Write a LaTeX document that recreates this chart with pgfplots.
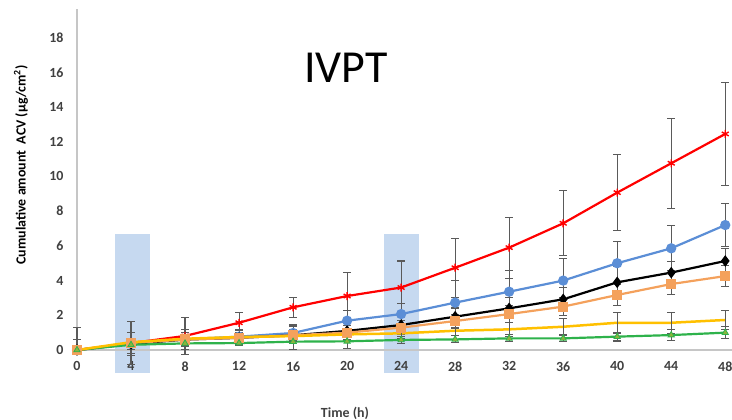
\documentclass[border=0pt]{standalone}
\usepackage{pgfplots}
\pgfplotsset{compat=1.18}
\usepackage{fontspec}
\setmainfont{Carlito}

\definecolor{cred}{HTML}{FF0000}
\definecolor{cblue}{HTML}{5B8ED6}
\definecolor{corange}{HTML}{F4A15C}
\definecolor{cyellow}{HTML}{FFC000}
\definecolor{cgreen}{HTML}{2EB24B}
\definecolor{cgreenfill}{HTML}{8CB43C}
\definecolor{cshade}{HTML}{C6D9F0}
\definecolor{ctick}{HTML}{404040}
\definecolor{cerr}{HTML}{5A5A5A}

\begin{document}
\begin{tikzpicture}
\begin{axis}[
  set layers,
  scale only axis, width=655bp, height=341bp,
  xmin=0, xmax=48.5, ymin=0, ymax=19.65,
  axis lines=left,
  axis line style={draw=gray!45, line width=1.3pt, -},
  xtick={0,4,...,48}, ytick={0,2,...,18},
  major tick length=0pt,
  /pgf/number format/assume math mode=true,
  tick label style={font=\fontsize{14}{16}\selectfont\bfseries, text=ctick},
  yticklabel style={xshift=-10bp},
  xticklabel style={yshift=-8bp},
  clip=false,
  every axis plot/.append style={line width=2.2bp},
  error bars/error bar style={draw=cerr, line width=1.1bp, solid},
  error bars/error mark options={draw=cerr, line width=1.1bp, mark size=3.8bp, rotate=90},
]
% shaded sampling windows
\addplot[on layer=axis background, draw=none, fill=cshade, line width=0pt]
  coordinates {(2.8,-1.33) (5.4,-1.33) (5.4,6.7) (2.8,6.7)} -- cycle;
\addplot[on layer=axis background, draw=none, fill=cshade, line width=0pt]
  coordinates {(22.7,-1.33) (25.3,-1.33) (25.3,6.7) (22.7,6.7)} -- cycle;

% red
\addplot[cred, mark=asterisk, mark size=4bp, mark options={line width=1.4bp},
  error bars/.cd, y dir=both, y explicit] coordinates {
  (0,0) +- (0,0)
  (4,0.40) +- (0,1.25)
  (8,0.81) +- (0,1.05)
  (12,1.57) +- (0,0.58)
  (16,2.46) +- (0,0.58)
  (20,3.11) +- (0,1.35)
  (24,3.60) +- (0,1.53)
  (28,4.74) +- (0,1.70)
  (32,5.90) +- (0,1.76)
  (36,7.30) +- (0,1.88)
  (40,9.07) +- (0,2.19)
  (44,10.76) +- (0,2.60)
  (48,12.45) +- (0,2.98)
};
% blue
\addplot[cblue, mark=*, mark size=4bp, mark options={fill=cblue, draw=cblue},
  error bars/.cd, y dir=both, y explicit] coordinates {
  (0,0) +- (0,0)
  (4,0.35) +- (0,0.30)
  (8,0.62) +- (0,0.57)
  (12,0.77) +- (0,0.40)
  (16,0.98) +- (0,0.46)
  (20,1.69) +- (0,0.60)
  (24,2.07) +- (0,0.60)
  (28,2.73) +- (0,1.30)
  (32,3.36) +- (0,1.24)
  (36,4.00) +- (0,1.28)
  (40,5.00) +- (0,1.25)
  (44,5.86) +- (0,1.30)
  (48,7.20) +- (0,1.25)
};
% black
\addplot[black, mark=diamond*, mark size=4bp, mark options={fill=black},
  error bars/.cd, y dir=both, y explicit] coordinates {
  (0,0) += (0,1.30) -= (0,0)
  (4,0.35) +- (0,0.65)
  (8,0.60) +- (0,0.40)
  (12,0.70) +- (0,0.40)
  (16,0.85) +- (0,0.50)
  (20,1.10) +- (0,0.50)
  (24,1.44) +- (0,0.50)
  (28,1.92) +- (0,0.50)
  (32,2.40) +- (0,0.60)
  (36,2.92) +- (0,0.70)
  (40,3.90) +- (0,0.90)
  (44,4.46) +- (0,0.63)
  (48,5.13) +- (0,0.73)
};
% orange
\addplot[corange, mark=square*, mark size=4bp, mark options={fill=corange, draw=corange},
  error bars/.cd, y dir=both, y explicit] coordinates {
  (0,0) += (0,0.60) -= (0,0)
  (4,0.40) +- (0,0.60)
  (8,0.60) +- (0,0.30)
  (12,0.70) +- (0,0.30)
  (16,0.85) +- (0,0.30)
  (20,1.00) +- (0,0.40)
  (24,1.29) +- (0,0.40)
  (28,1.67) +- (0,0.40)
  (32,2.07) +- (0,0.50)
  (36,2.50) +- (0,0.50)
  (40,3.17) +- (0,0.60)
  (44,3.80) +- (0,0.60)
  (48,4.26) +- (0,0.60)
};
% green
\addplot[cgreen, mark=triangle*, mark size=3.6bp, mark options={fill=cgreenfill, draw=cgreen, line width=0.8bp},
  error bars/.cd, y dir=both, y explicit] coordinates {
  (0,0) +- (0,0)
  (4,0.30) +- (0,0.10)
  (8,0.38) +- (0,0.15)
  (12,0.40) +- (0,0.15)
  (16,0.48) +- (0,0.45)
  (20,0.50) +- (0,0.40)
  (24,0.58) +- (0,0.20)
  (28,0.61) +- (0,0.20)
  (32,0.67) +- (0,0.20)
  (36,0.67) +- (0,0.20)
  (40,0.77) +- (0,0.25)
  (44,0.86) +- (0,0.30)
  (48,1.00) +- (0,0.35)
};
% yellow
\addplot[cyellow, mark=none, line width=2.5bp,
  error bars/.cd, y dir=both, y explicit] coordinates {
  (0,0) +- (0,0)
  (4,0.45) +- (0,0.20)
  (8,0.65) +- (0,0.20)
  (12,0.75) +- (0,0.20)
  (16,0.80) +- (0,0.30)
  (20,0.90) +- (0,0.30)
  (24,0.96) +- (0,0.30)
  (28,1.11) +- (0,0.30)
  (32,1.19) +- (0,0.40)
  (36,1.34) +- (0,0.50)
  (40,1.57) +- (0,0.60)
  (44,1.57) +- (0,0.60)
  (48,1.73) +- (0,0.55)
};
\end{axis}
\node[rotate=90, font=\fontsize{14}{16}\selectfont\bfseries] at (-56bp,185bp)
  {Cumulative amount\ \ ACV (μg/cm\textsuperscript{2})};
\node[font=\fontsize{14}{16}\selectfont\bfseries, text=ctick] at (268bp,-63bp) {Time (h)};
\node[font=\fontsize{46}{50}\selectfont] at (269bp,282bp) {IVPT};
\pgfresetboundingbox
\path[use as bounding box] (-77bp,-70bp) rectangle (655bp,350bp);
\end{tikzpicture}
\end{document}
